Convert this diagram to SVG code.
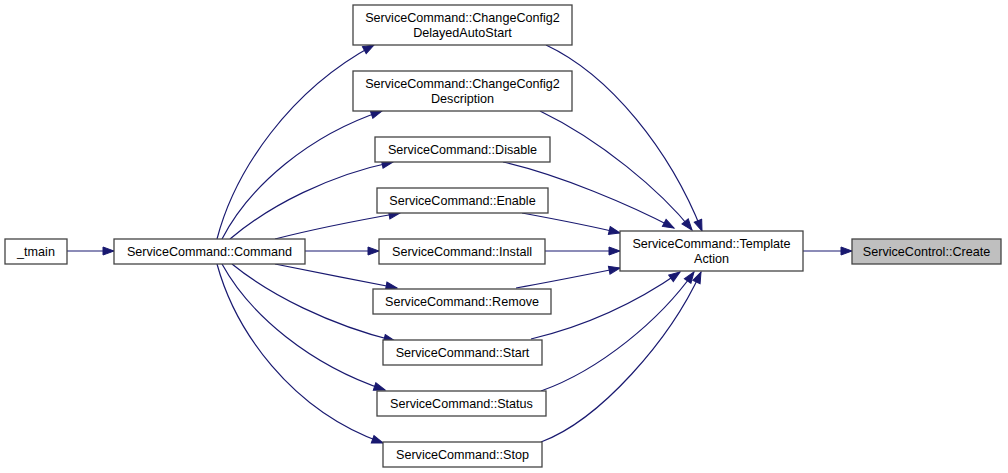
<svg xmlns="http://www.w3.org/2000/svg" width="1008" height="473" viewBox="0 0 1008 473">
<style>
.n rect{fill:#ffffff;stroke:#444444;stroke-width:1.3}
.n.h rect{fill:#bfbfbf}
.n text{font-family:"Liberation Sans",Arial,sans-serif;font-size:12.6px;fill:#000000;text-anchor:middle}
.e path{fill:none;stroke:#191970;stroke-width:1.2;marker-end:url(#ah)}
</style>
<defs>
<marker id="ah" markerUnits="userSpaceOnUse" markerWidth="14" markerHeight="10" viewBox="-12 -5 14 10" refX="0" refY="0" orient="auto">
<path d="M0,0 L-11,-4 L-11,4 Z" fill="#191970" stroke="#191970" stroke-width="1"/>
</marker>
</defs>
<rect width="1008" height="473" fill="#ffffff"/>
<g id="connectors" class="e">
<path d="M67,251 L114,251"/>
<path d="M217,239 C235,170 290,90 374,45"/>
<path d="M222,239 C250,185 310,135 382,111"/>
<path d="M230,239 C270,205 330,175 393,162"/>
<path d="M275,239 C310,230 360,220 400,213"/>
<path d="M305,251 L379,251"/>
<path d="M275,264 C310,271 360,281 397,288"/>
<path d="M232,264 C270,295 330,325 395,341"/>
<path d="M222,264 C250,315 310,365 385,390"/>
<path d="M217,264 C235,330 290,410 383,443"/>
<path d="M546,45 C610,75 670,150 702,231"/>
<path d="M540,111 C600,140 660,190 692,230"/>
<path d="M503,162 C560,175 630,205 674,228"/>
<path d="M522,213 C560,220 595,227 620,233"/>
<path d="M545,251 L620,251"/>
<path d="M516,288 C550,282 590,274 620,268"/>
<path d="M531,339 C590,325 640,300 680,272"/>
<path d="M541,391 C600,370 660,320 694,272"/>
<path d="M541,442 C600,420 670,340 701,272"/>
<path d="M803,251 L852,251"/>
</g>
<g id="tmain" class="n"><rect x="5" y="239" width="62" height="25"/><text x="36" y="256">_tmain</text></g>
<g id="command" class="n"><rect x="114" y="239" width="191" height="25"/><text x="209.5" y="256">ServiceCommand::Command</text></g>
<g id="delayed" class="n"><rect x="353" y="5" width="219" height="40"/><text x="462.5" y="22">ServiceCommand::ChangeConfig2</text><text x="462.5" y="37">DelayedAutoStart</text></g>
<g id="description" class="n"><rect x="353" y="71" width="219" height="40"/><text x="462.5" y="88">ServiceCommand::ChangeConfig2</text><text x="462.5" y="103">Description</text></g>
<g id="disable" class="n"><rect x="375" y="137" width="175" height="25"/><text x="462.5" y="154">ServiceCommand::Disable</text></g>
<g id="enable" class="n"><rect x="377" y="188" width="171" height="25"/><text x="462.5" y="205">ServiceCommand::Enable</text></g>
<g id="install" class="n"><rect x="379" y="239" width="166" height="25"/><text x="462" y="256">ServiceCommand::Install</text></g>
<g id="remove" class="n"><rect x="373" y="289" width="178" height="25"/><text x="462" y="306">ServiceCommand::Remove</text></g>
<g id="start" class="n"><rect x="383" y="340" width="159" height="25"/><text x="462.5" y="357">ServiceCommand::Start</text></g>
<g id="status" class="n"><rect x="377" y="391" width="169" height="25"/><text x="461.5" y="408">ServiceCommand::Status</text></g>
<g id="stop" class="n"><rect x="383" y="442" width="159" height="25"/><text x="462.5" y="459">ServiceCommand::Stop</text></g>
<g id="templateaction" class="n"><rect x="620" y="231" width="183" height="40"/><text x="711.5" y="248">ServiceCommand::Template</text><text x="711.5" y="263">Action</text></g>
<g id="create" class="n h"><rect x="852" y="239" width="149" height="25"/><text x="926.5" y="256">ServiceControl::Create</text></g>
</svg>
